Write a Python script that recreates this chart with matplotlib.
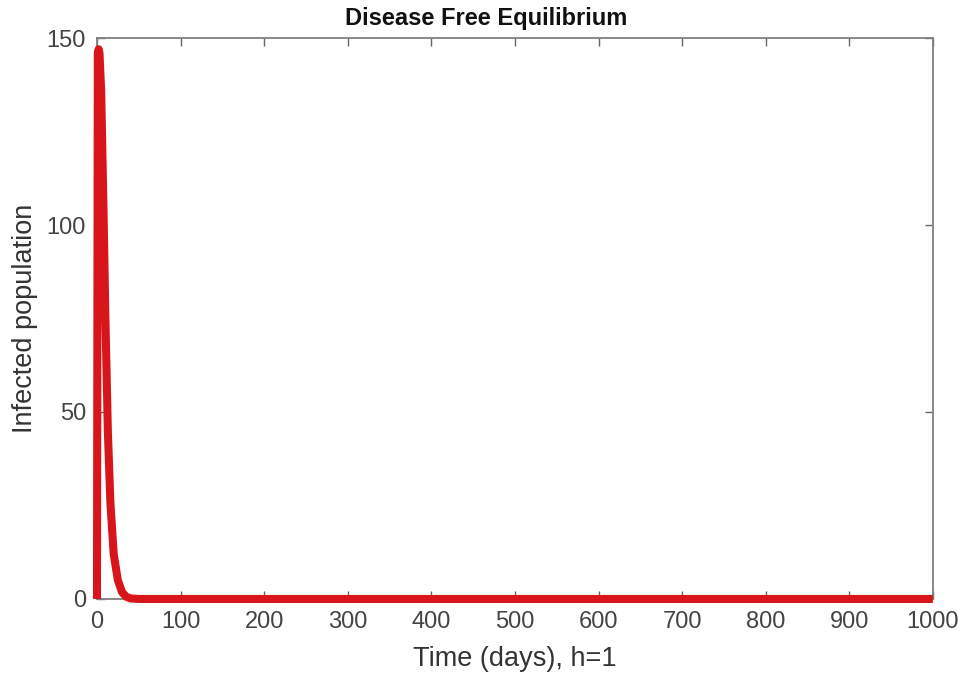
import matplotlib
matplotlib.use("Agg")
import matplotlib.pyplot as plt

# Data (early transient, then flat at zero)
t_early = [0, 1, 2, 3, 5, 8, 10, 13, 16, 20, 25, 30, 35, 40, 50]
i_early = [0, 146, 147, 146, 136, 102, 76, 45, 26, 12, 5, 1.8, 0.6, 0.15, 0.0]
t_late = [100, 200, 300, 400, 500, 600, 700, 800, 900, 1000]
i_late = [0, 0, 0, 0, 0, 0, 0, 0, 0, 0]

t = t_early + t_late
infected = i_early + i_late

xticks = [0, 100, 200, 300, 400, 500, 600, 700, 800, 900, 1000]
yticks = [0, 50, 100, 150]

plt.rcParams['font.family'] = ['Liberation Sans', 'DejaVu Sans']

fig = plt.figure(figsize=(9.63, 6.73), dpi=100)
ax = fig.add_axes([0.1007, 0.110, 0.868, 0.8335])
ax.plot(t, infected, color='#d8151b', linewidth=5.8, solid_capstyle='butt',
        clip_on=False, zorder=3)
ax.set_xlim(0, 1000)
ax.set_ylim(0, 150)
ax.set_xticks(xticks)
ax.set_yticks(yticks)
ax.tick_params(direction='in', top=True, right=True, length=6, width=1,
               colors='#666666', labelsize=17, labelcolor='#444444')
ax.tick_params(axis='x', pad=9)
ax.tick_params(axis='y', pad=8)
for s in ax.spines.values():
    s.set_color('#808080')
    s.set_linewidth(1.3)
ax.set_xlabel('Time (days), h=1', fontsize=19.5, color='#333333', labelpad=9)
ax.set_ylabel('Infected population', fontsize=19.5, color='#333333', labelpad=6)
fig.text(486 / 963, 1 - 19 / 673, 'Disease Free Equilibrium', fontsize=17,
         fontweight='bold', ha='center', va='center', color='#111111')
fig.savefig('out.png', dpi=100)
